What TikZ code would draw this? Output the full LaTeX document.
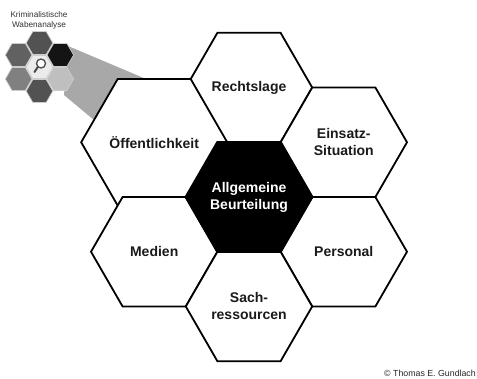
\documentclass[tikz,border=0pt]{standalone}
\usepackage{fontspec}
\setmainfont{Liberation Sans}
\usetikzlibrary{shapes.geometric}
\definecolor{wedgegray}{HTML}{A8A8A8}
\definecolor{txtdark}{HTML}{1A1A1A}
\begin{document}
\begin{tikzpicture}[x=1pt,y=-1pt,
  hexa/.style={regular polygon, regular polygon sides=6, minimum size=126.4pt,
    inner sep=0pt, outer sep=0pt, draw=black, line width=1.8pt, fill=white,
    font=\fontsize{14}{17}\selectfont\bfseries, align=center, text=txtdark},
  thumb/.style={regular polygon, regular polygon sides=6, minimum size=26.6pt,
    inner sep=0pt, outer sep=0pt, draw=white!80!black, line width=0.7pt},
  smalltxt/.style={font=\fontsize{8.2}{10}\selectfont, align=center, text=black!80, inner sep=0pt},
  copytxt/.style={font=\fontsize{8.8}{10}\selectfont, text=black!85, inner sep=0pt}
]
\useasboundingbox (0,0) rectangle (477,378);
\fill[white] (0,0) rectangle (477,378);

% gray wedge from thumbnail to the diagram
\fill[wedgegray] (68,46) -- (165,87) -- (100,125) -- (64,95) -- cycle;

% thumbnail
\node[smalltxt] (title) at (39,20) {Kriminalistische\\Wabenanalyse};
\node[thumb, fill=black!68] (tT) at (39.5,43) {};
\node[thumb, fill=black!62] (tUL) at (18.7,55) {};
\node[thumb, fill=black!92] (tUR) at (60.3,55) {};
\node[thumb, fill=black!8] (tC) at (39.5,67) {};
\node[thumb, fill=black!50] (tLL) at (18.7,79) {};
\node[thumb, fill=black!25] (tLR) at (60.3,79) {};
\node[thumb, fill=black!68] (tB) at (39.5,91) {};
\draw[black!70, line width=1.3pt, fill=white] (41,63.5) circle (4.5);
\draw[black!70, line width=2pt, line cap=round] (38,66.8) -- (34.5,72);

% main honeycomb
\node[hexa] (rl) at (249,87.54) {Rechtslage};
\node[hexa] (oe) at (154.2,142.27) {Öffentlichkeit};
\node[hexa] (es) at (343.8,142.27) {Einsatz-\\Situation};
\node[hexa] (me) at (154.2,251.73) {Medien};
\node[hexa] (pe) at (343.8,251.73) {Personal};
\node[hexa] (sr) at (249,306.46) {Sach-\\ressourcen};
\node[hexa, fill=black, text=white] (ab) at (249,197) {Allgemeine\\Beurteilung};

\node[copytxt, anchor=east] (copy) at (476,373) {© Thomas E. Gundlach};
\end{tikzpicture}
\end{document}
